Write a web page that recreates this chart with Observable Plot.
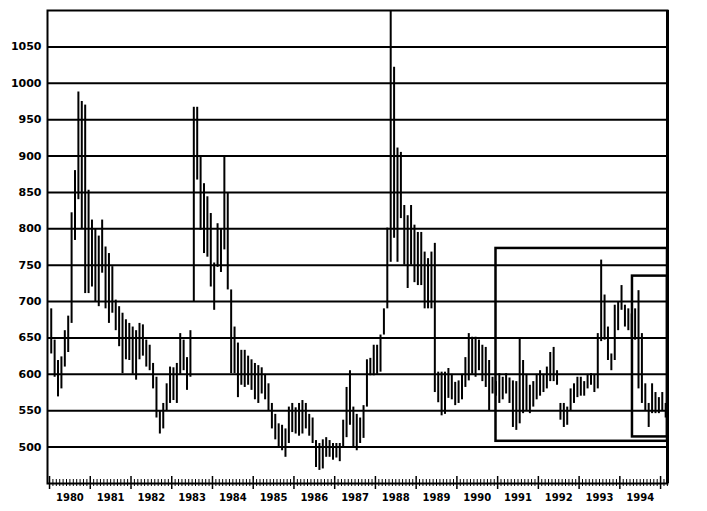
<!DOCTYPE html>
<html><head><meta charset="utf-8">
<script src="https://cdn.jsdelivr.net/npm/d3@7"></script>
<script src="https://cdn.jsdelivr.net/npm/@observablehq/plot@0.6"></script>
<style>
html,body{margin:0;padding:0;background:#fff;}
#chart svg{display:block;}
</style></head><body><div id="chart"></div>
<script>
const startYear = 1980;
// monthly high / low, Jan 1980 .. Feb 1995
const highs = [
  690,647,619,624,660,680,822,880,988,975,970,853,
  812,800,790,812,775,766,748,702,693,684,675,670,
  665,660,670,668,647,640,615,596,550,560,587,610,
  609,615,656,647,623,660,967,967,898,862,844,821,
  753,807,800,898,849,716,665,643,633,633,625,620,
  615,612,609,600,587,560,545,532,530,525,555,560,
  554,560,564,560,545,540,509,505,510,513,509,505,
  505,505,537,582,605,555,545,540,557,620,622,640,
  640,654,690,801,1100,1022,911,905,832,818,832,805,
  795,795,768,759,768,780,603,603,603,608,600,589,
  591,600,623,656,651,651,647,640,637,619,596,590,
  601,596,601,595,591,590,649,619,600,585,590,600,
  605,600,610,630,637,605,560,560,555,580,587,596,
  596,590,600,601,600,656,757,709,665,628,695,700,
  722,695,690,683,690,715,656,587,560,587,575,568,
  575,560
];
const lows = [
  628,596,569,580,610,630,670,784,840,800,711,711,
  720,700,693,739,690,670,684,660,638,601,620,619,
  600,592,620,625,610,605,580,540,518,525,550,560,
  564,560,600,605,578,596,700,867,798,766,761,720,
  688,747,740,771,716,601,601,568,585,582,585,578,
  565,560,573,565,550,525,510,500,495,486,505,520,
  518,515,518,525,515,505,472,468,470,486,486,482,
  485,480,500,513,530,500,495,505,512,555,598,598,
  600,603,654,690,754,787,754,814,750,718,750,726,
  722,722,690,690,690,575,561,543,545,567,565,557,
  560,565,582,591,600,596,605,590,582,550,573,570,
  560,565,573,560,527,523,532,546,550,546,555,565,
  570,575,580,590,590,585,537,527,530,550,560,568,
  570,570,580,585,575,580,645,647,619,605,619,660,
  688,665,660,651,647,580,560,550,527,546,546,546,
  550,540
];
const yTicks = [500,550,600,650,700,750,800,850,900,950,1000,1050];
const yearLabels = [1980,1981,1982,1983,1984,1985,1986,1987,1988,1989,1990,1991,1992,1993,1994];
const boxX1 = [1990.96, 1994.31];
const boxLow = [508, 514];
const boxHigh = [773, 735];
const xDomain = [1979.95, 1995.17];
const yDomain = [450, 1100];

const bars = highs.map((h, i) => ({t: startYear + (i + 0.5) / 12, high: h, low: lows[i]}));
const boxes = boxX1.map((x1, i) => ({x1, x2: xDomain[1], y1: boxLow[i], y2: boxHigh[i]}));
const monthTicks = d3.range(0, 183).map(k => ({t: startYear + k / 12, major: k % 12 === 0}));

const chart = Plot.plot({
  width: 707, height: 511,
  marginLeft: 47, marginRight: 40, marginTop: 10, marginBottom: 28,
  style: {fontFamily: "DejaVu Sans", background: "white", color: "black"},
  x: {domain: xDomain, axis: null},
  y: {domain: yDomain, axis: null},
  marks: [
    Plot.ruleY(yTicks, {stroke: "black", strokeWidth: 2}),
    Plot.ruleX(bars, {x: "t", y1: "low", y2: "high", stroke: "black", strokeWidth: 2}),
    Plot.rect(boxes, {x1: "x1", x2: "x2", y1: "y1", y2: "y2", fill: "none", stroke: "black", strokeWidth: 2.5}),
    Plot.frame({stroke: "black", strokeWidth: 2}),
    Plot.ruleX([xDomain[1]], {stroke: "black", strokeWidth: 3}),
    Plot.ruleX(monthTicks.filter(d => !d.major), {x: "t", insetTop: 469, insetBottom: -3, stroke: "black", strokeWidth: 1}),
    Plot.ruleX(monthTicks.filter(d => d.major), {x: "t", insetTop: 466, insetBottom: -6, stroke: "black", strokeWidth: 1.5}),
    Plot.text(yearLabels, {x: d => d + 0.5, frameAnchor: "bottom", dy: 14, text: d => String(d), fontSize: 10, fontWeight: "bold", lineAnchor: "middle", fill: "black"}),
    Plot.text(yTicks, {y: d => d, frameAnchor: "left", dx: -6, textAnchor: "end", text: d => String(d), fontSize: 11, fontWeight: "bold", fill: "black"})
  ]
});
document.getElementById("chart").appendChild(chart);
</script>
</body></html>
